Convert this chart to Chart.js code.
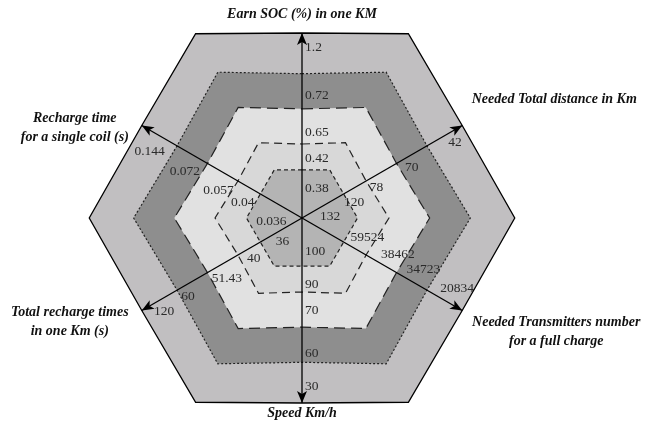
<!DOCTYPE html>
<html>
<head>
<meta charset="utf-8">
<script src="https://cdn.jsdelivr.net/npm/chart.js@4.4.0/dist/chart.umd.min.js"></script>
<style>
  html, body { margin: 0; padding: 0; background: #fff; }
  #wrap { width: 652px; height: 424px; }
</style>
</head>
<body>
<div id="wrap"><canvas id="hexChart" width="652" height="424"></canvas></div>
<script>
// axis titles, clockwise from the top
const axisTitles = [
  ["Earn SOC (%) in one KM"],
  ["Needed Total distance in Km"],
  ["Needed Transmitters number", "for a full charge"],
  ["Speed Km/h"],
  ["Total recharge times", "in one Km (s)"],
  ["Recharge time", "for a single coil (s)"],
];

// values written along each axis, outer ring first
const socTicks = ["1.2", "0.72", "0.65", "0.42", "0.38"];
const distanceTicks = ["42", "70", "78", "120", "132"];
const transmitterTicks = ["20834", "34723", "38462", "59524", ""];
const speedTicks = ["30", "60", "70", "90", "100"];
const rechargeTotalTicks = ["120", "60", "51.43", "40", "36"];
const coilTimeTicks = ["0.144", "0.072", "0.057", "0.04", "0.036"];
const axisTicks = [socTicks, distanceTicks, transmitterTicks, speedTicks, rechargeTotalTicks, coilTimeTicks];

// hexagon rings, inner to outer: where each ring crosses an axis, and its corners
const ringOnAxis = [1.3, 2.0, 2.95, 3.9, 5.0];
const ringAtCorner = [1.5, 2.35, 3.45, 4.55, 5.75];

// looks of the rings (inner to outer)
const ringFill = ["#b4b4b4", "#d8d8d8", "#e1e1e1", "#8e8e8e", "#c1bfc1"];
const ringLine = ["#222", "#222", "#222", "#222", "#000"];
const ringDash = [[4, 3], [8, 5], [11, 6], [2, 2], []];

// where the tick texts sit along each axis (scale units) and how they hang off it
const tickSlots = [
  [4.6, 3.3, 2.3, 1.6, 0.8],
  [4.5, 3.15, 2.05, 1.25, 0.5],
  [4.25, 3.2, 2.4, 1.45, 0.5],
  [4.55, 3.65, 2.5, 1.8, 0.9],
  [4.65, 3.8, 2.85, 1.75, 0.85],
  [4.25, 3.15, 2.1, 1.45, 0.45],
];
const tickLook = [
  { align: "left", base: "middle", dx: 3, dy: 0 },
  { align: "left", base: "top", dx: 2, dy: 1 },
  { align: "left", base: "bottom", dx: 2, dy: -1 },
  { align: "left", base: "middle", dx: 3, dy: 0 },
  { align: "left", base: "top", dx: 1, dy: 1 },
  { align: "right", base: "top", dx: -1, dy: 5 },
];
const titleShift = [[0, -19], [92, -26], [94, 21], [0, 10], [-72, 11], [-67, 2]];

const labels = axisTitles.flatMap((t) => [t, ""]);

// first dataset is painted last, so the inner ring goes first
const datasets = ringOnAxis.map((onAxis, k) => ({
  label: "ring" + k,
  data: axisTitles.flatMap(() => [onAxis, ringAtCorner[k]]),
  backgroundColor: ringFill[k],
  borderColor: ringLine[k],
  borderWidth: k === 4 ? 1.3 : 1.2,
  borderDash: ringDash[k],
  fill: "origin",
  pointRadius: 0,
  pointHoverRadius: 0,
  clip: false,
}));

const axisDecor = {
  id: "axisDecor",
  afterDraw(chart) {
    const r = chart.scales.r;
    const ctx = chart.ctx;
    const tipDist = r.getDistanceFromCenterForValue(r.max);
    ctx.save();

    axisTitles.forEach((title, i) => {
      const spoke = i * 2;
      const tip = r.getPointPosition(spoke, tipDist);
      const back = r.getPointPosition(spoke, tipDist - 12);
      const ux = (tip.x - back.x) / 12;
      const uy = (tip.y - back.y) / 12;

      // arrow head
      ctx.fillStyle = "#000";
      ctx.beginPath();
      ctx.moveTo(tip.x, tip.y);
      ctx.lineTo(back.x - uy * 5, back.y + ux * 5);
      ctx.lineTo(back.x + ux * 3, back.y + uy * 3);
      ctx.lineTo(back.x + uy * 5, back.y - ux * 5);
      ctx.closePath();
      ctx.fill();

      // tick values
      const look = tickLook[i];
      ctx.font = "13.5px 'Liberation Serif', 'Times New Roman', serif";
      ctx.fillStyle = "#2a2a2a";
      ctx.textAlign = look.align;
      ctx.textBaseline = look.base;
      axisTicks[i].forEach((txt, k) => {
        if (!txt) return;
        const p = r.getPointPosition(spoke, r.getDistanceFromCenterForValue(tickSlots[i][k]));
        ctx.fillText(txt, p.x + look.dx, p.y + look.dy);
      });

      // axis title
      ctx.font = "italic bold 14px 'Liberation Serif', 'Times New Roman', serif";
      ctx.fillStyle = "#111";
      ctx.textAlign = "center";
      ctx.textBaseline = "middle";
      const lineH = 19;
      const cx = tip.x + titleShift[i][0];
      const cy = tip.y + titleShift[i][1] - ((title.length - 1) * lineH) / 2;
      title.forEach((line, n) => ctx.fillText(line, cx, cy + n * lineH));
    });

    ctx.restore();
  },
};

new Chart(document.getElementById("hexChart"), {
  type: "radar",
  data: { labels, datasets },
  options: {
    responsive: false,
    animation: false,
    devicePixelRatio: 1,
    layout: { padding: { top: 33, bottom: 21, left: 0, right: 48 } },
    elements: { line: { tension: 0 } },
    scales: {
      r: {
        min: 0,
        max: 5,
        startAngle: 0,
        grid: { display: false, z: 1 },
        angleLines: {
          display: true,
          color: "#000",
          lineWidth: (c) => (c.index % 2 ? 0 : 1.3),
        },
        ticks: { display: false },
        pointLabels: { display: false },
      },
    },
    plugins: {
      legend: { display: false },
      tooltip: { enabled: false },
    },
  },
  plugins: [axisDecor],
});
</script>
</body>
</html>
